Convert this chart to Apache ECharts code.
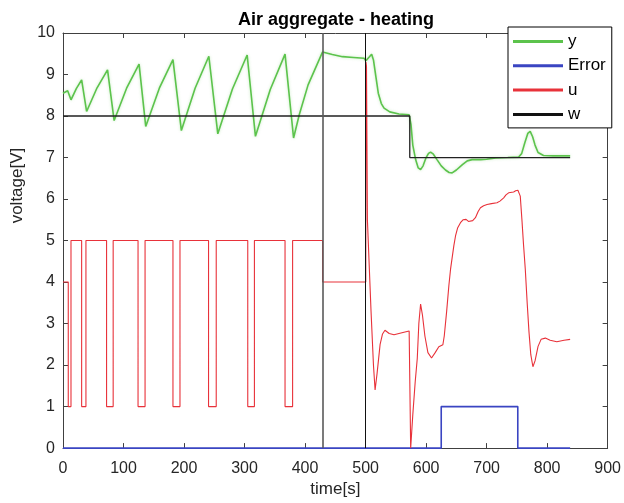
<!DOCTYPE html>
<html>
<head>
<meta charset="utf-8">
<title>Air aggregate - heating</title>
<script src="https://cdn.jsdelivr.net/npm/echarts@6/dist/echarts.min.js"></script>
<style>
  html, body { margin: 0; padding: 0; background: #fff; }
  #chart { width: 624px; height: 503px; }
</style>
</head>
<body>
<div id="chart"></div>
<script>
// [time s, voltage V]
var yData = [[0,8.55],[7.7,8.61],[13.2,8.39],[22,8.66],[30.8,8.87],[39,8.11],[56.3,8.68],[73.6,9.11],[84.5,7.89],[105.1,8.67],[125.7,9.25],[136.7,7.75],[159.2,8.67],[181.7,9.36],[195.6,7.65],[218.3,8.67],[241,9.44],[255.8,7.57],[280,8.65],[304.3,9.47],[318,7.51],[342.5,8.64],[366.9,9.49],[381,7.47],[390.4,8.03],[405,8.75],[428.8,9.54],[445,9.48],[461.8,9.43],[480,9.41],[497.5,9.39],[500.5,9.33],[503,9.3],[506,9.42],[510,9.49],[513,9.35],[517,8.95],[521,8.55],[526,8.3],[530.5,8.19],[540,8.1],[555,8.05],[572,8.03],[575,7.8],[578,7.3],[582.7,6.95],[587,6.75],[590.9,6.71],[595,6.8],[600,7.0],[604,7.1],[607.4,7.13],[612,7.08],[618,6.95],[625,6.8],[632,6.7],[638,6.64],[643,6.63],[650,6.7],[660,6.83],[668,6.92],[676,6.95],[690,6.95],[700,6.96],[715,6.99],[735,7.0],[753,7.01],[758,7.1],[763,7.35],[768,7.58],[772,7.63],[776,7.5],[780,7.3],[785,7.12],[794,7.05],[810,7.04],[838,7.04]];

var errData = [[0,0],[625,0],[625,1],[751.5,1],[751.5,0],[838,0]];

var uData = [[0,4],[8.7,4],[8.7,1],[13.2,1],[13.2,5],[30.8,5],[30.8,1],[37.9,1],[37.9,5],[72,5],[72,1],[82.9,1],[82.9,5],[124,5],[124,1],[135.6,1],[135.6,5],[181.7,5],[181.7,1],[193.3,1],[193.3,5],[240.5,5],[240.5,1],[253.2,1],[253.2,5],[305.3,5],[305.3,1],[316.3,1],[316.3,5],[366.9,5],[366.9,1],[379.4,1],[379.4,5],[429,5],[429,4],[500.3,4],[500.6,9.3],[501.5,9.2],[503,5.5],[509,3.3],[513,2.0],[515.7,1.4],[519,1.8],[524,2.5],[528,2.75],[532,2.84],[539,2.76],[547,2.73],[560,2.78],[572,2.82],[574.5,0],[578,0.8],[582,1.6],[585.4,2.16],[588,3.0],[590.9,3.47],[594,3.2],[598,2.7],[603,2.3],[609,2.17],[615,2.3],[621,2.44],[627.7,2.49],[630,2.7],[634,3.3],[637.6,3.91],[640.4,4.31],[645.8,4.87],[648.6,5.11],[652,5.3],[656.8,5.43],[661,5.5],[666,5.51],[670,5.46],[673.3,5.45],[677,5.48],[681.5,5.55],[686,5.7],[689.8,5.79],[695,5.84],[700.7,5.87],[708,5.89],[717.1,5.91],[722,5.95],[728.2,6.03],[732,6.1],[736.4,6.15],[744.6,6.17],[748,6.2],[751.7,6.21],[755.6,6.07],[758.3,5.51],[761,4.9],[763.9,4.31],[767,3.5],[770,2.8],[773,2.25],[776.5,1.96],[780,2.1],[785,2.45],[790,2.62],[797,2.65],[805,2.6],[816,2.56],[828,2.6],[838,2.62]];

var wData = [[0,8],[573,8],[573,7],[838,7]];

// vertical marker lines
var markTimes = [429, 500];

var font = 'Liberation Sans, Arial, Helvetica, sans-serif';
var axisColor = '#404040';

var myChart = echarts.init(document.getElementById('chart'), null, { renderer: 'canvas' });

function boxAxis(pos, isX, showLabel) {
  var ax = {
    type: 'value',
    position: pos,
    min: 0,
    max: isX ? 900 : 10,
    interval: isX ? 100 : 1,
    axisLine: { show: true, onZero: false, lineStyle: { color: axisColor, width: 1 } },
    axisTick: { show: true, inside: true, length: 5, lineStyle: { color: axisColor } },
    axisLabel: { show: showLabel, color: '#262626', fontSize: 16, fontFamily: font, margin: isX ? 12 : 8 },
    splitLine: { show: false }
  };
  return ax;
}

var xBottom = boxAxis('bottom', true, true);
xBottom.name = 'time[s]';
xBottom.nameLocation = 'middle';
xBottom.nameGap = 32;
xBottom.nameTextStyle = { color: '#262626', fontSize: 17, fontFamily: font };

var yLeft = boxAxis('left', false, true);
yLeft.name = 'voltage[V]';
yLeft.nameLocation = 'middle';
yLeft.nameGap = 33;
// label sits a bit above the middle of the axis in the original
yLeft.nameTextStyle = { color: '#262626', fontSize: 17, fontFamily: font, padding: [0, 0, 0, 110] };

var option = {
  animation: false,
  backgroundColor: '#fff',
  title: {
    text: 'Air aggregate - heating',
    left: 331,
    top: 6,
    textAlign: 'center',
    textStyle: { color: '#000', fontSize: 18, fontWeight: 'bold', fontFamily: font }
  },
  legend: {
    data: ['y', 'Error', 'u', 'w'],
    orient: 'vertical',
    left: 508,
    top: 27,
    icon: 'rect',
    itemWidth: 50,
    itemHeight: 3,
    itemGap: 7.3,
    padding: [6, 6, 5, 5],
    selectedMode: false,
    backgroundColor: '#fff',
    borderColor: '#000',
    borderWidth: 1,
    borderRadius: 0,
    textStyle: { color: '#000', fontSize: 17, fontFamily: font, lineHeight: 17 }
  },
  grid: { left: 63, right: 14, top: 33, bottom: 53, containLabel: false },
  xAxis: [xBottom, boxAxis('top', true, false)],
  yAxis: [yLeft, boxAxis('right', false, false)],
  series: [
    {
      name: 'y', type: 'line', data: yData, showSymbol: false, clip: false,
      color: '#5cc34c',
      lineStyle: { width: 1.6, color: '#5cc34c', shadowBlur: 3, shadowColor: 'rgba(92,195,76,0.35)' }
    },
    {
      name: 'Error', type: 'line', data: errData, showSymbol: false, clip: false,
      color: '#3a45c2',
      lineStyle: { width: 1.6, color: '#3a45c2' }
    },
    {
      name: 'u', type: 'line', data: uData, showSymbol: false, clip: false,
      color: '#e8323a',
      lineStyle: { width: 1.1, color: '#e8323a' }
    },
    {
      name: 'w', type: 'line', data: wData, showSymbol: false, clip: false,
      color: '#111',
      lineStyle: { width: 1.3, color: '#222' },
      markLine: {
        silent: true,
        symbol: 'none',
        label: { show: false },
        data: [
          { xAxis: markTimes[0], lineStyle: { color: '#5a5a5a', width: 1.6, type: 'solid' } },
          { xAxis: markTimes[1], lineStyle: { color: '#111', width: 1, type: 'solid' } }
        ]
      }
    }
  ]
};

myChart.setOption(option);

window.addEventListener('resize', function () {
  myChart.resize();
});
</script>
</body>
</html>
